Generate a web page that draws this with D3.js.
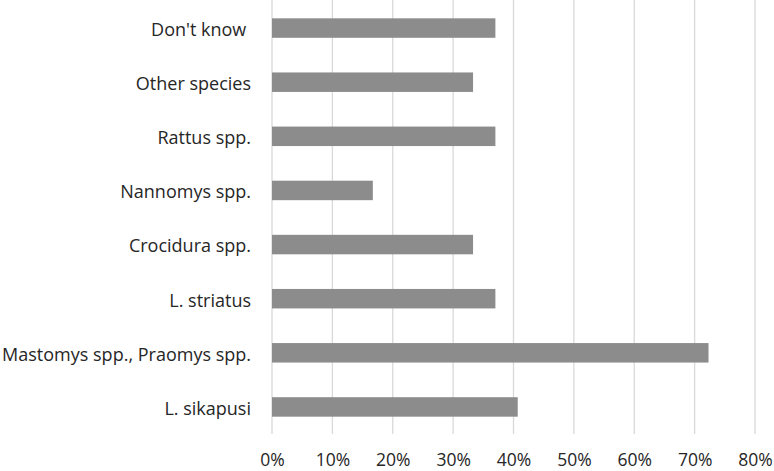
<!DOCTYPE html>
<html>
<head>
<meta charset="utf-8">
<script src="https://cdn.jsdelivr.net/npm/d3@7"></script>
<style>
  html, body { margin: 0; padding: 0; background: #fff; }
  svg { display: block; }
  text { font-family: "Open Sans", sans-serif; fill: #262626; }
</style>
</head>
<body>
<svg id="chart" width="774" height="471"></svg>
<script>
const categories = [
  "Don't know ", "Other species", "Rattus spp.", "Nannomys spp.",
  "Crocidura spp.", "L. striatus", "Mastomys spp., Praomys spp.", "L. sikapusi"
];
const values = [0.370, 0.333, 0.370, 0.167, 0.333, 0.370, 0.723, 0.407];
const ticks = [0, 0.1, 0.2, 0.3, 0.4, 0.5, 0.6, 0.7, 0.8];

const svg = d3.select('#chart');
const m = { top: 1, left: 272, right: 19, bottom: 37 };
const w = 774, h = 471;

const x = d3.scaleLinear().domain([0, 0.8]).range([m.left, w - m.right]);
const y = d3.scaleBand().domain(categories).range([m.top, h - m.bottom]).paddingInner(0.64).paddingOuter(0.32);

// gridlines
svg.append('g').selectAll('line').data(ticks).join('line')
  .attr('x1', d => x(d)).attr('x2', d => x(d))
  .attr('y1', m.top - 1).attr('y2', h - m.bottom)
  .attr('stroke', '#d9d9d9').attr('stroke-width', 1.3);

// bars
svg.append('g').selectAll('rect').data(values).join('rect')
  .attr('x', x(0))
  .attr('y', (d, i) => y(categories[i]))
  .attr('width', d => x(d) - x(0))
  .attr('height', y.bandwidth())
  .attr('fill', '#8c8c8c');

// x axis labels
const xAxis = d3.axisBottom(x).tickValues(ticks).tickFormat(d3.format('.0%')).tickSize(0);
svg.append('g').attr('transform', `translate(0,${h - m.bottom})`).call(xAxis)
  .call(g => g.select('.domain').remove())
  .call(g => g.selectAll('text').attr('y', 32).attr('dy', 0)
    .attr('font-size', 17.5).attr('font-family', '"Open Sans", sans-serif').attr('fill', '#262626'));

// y axis labels
const yAxis = d3.axisLeft(y).tickSize(0).tickPadding(21);
svg.append('g').attr('transform', `translate(${m.left},0)`).call(yAxis)
  .call(g => g.select('.domain').remove())
  .call(g => g.selectAll('text').attr('dy', '0.44em')
    .attr('font-size', 18).attr('font-family', '"Open Sans", sans-serif').attr('fill', '#262626').style('white-space', 'pre'));
</script>
</body>
</html>
